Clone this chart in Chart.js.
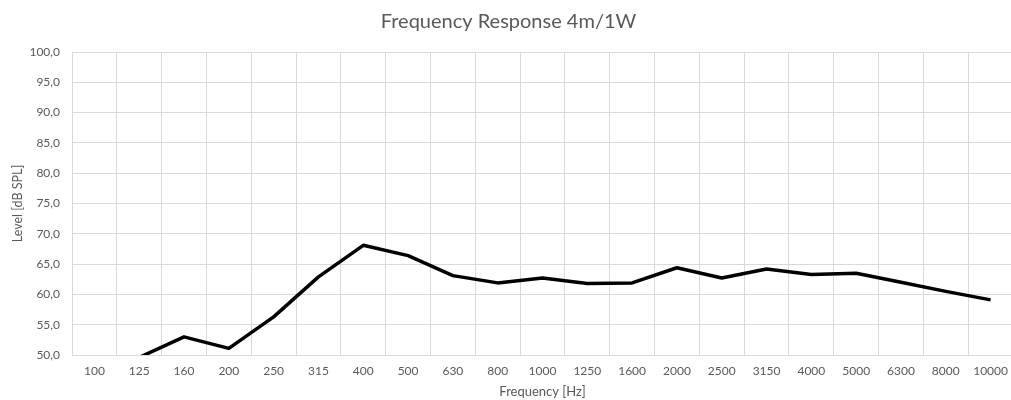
<!DOCTYPE html>
<html>
<head>
<meta charset="utf-8">
<script src="https://cdn.jsdelivr.net/npm/chart.js@4/dist/chart.umd.min.js"></script>
<style>
  html, body { margin: 0; padding: 0; overflow: hidden; background: #fff; }
  #wrap { width: 1017px; height: 400px; }
</style>
</head>
<body>
<div id="wrap"><canvas id="c" width="1017" height="400"></canvas></div>
<script>
const frequencies = ['100','125','160','200','250','315','400','500','630','800','1000','1250','1600','2000','2500','3150','4000','5000','6300','8000','10000'];
const levels = [null, 49.6, 53.0, 51.1, 56.3, 62.9, 68.1, 66.4, 63.1, 61.9, 62.7, 61.8, 61.9, 64.4, 62.7, 64.2, 63.3, 63.5, 62.0, 60.5, 59.1];
const yMin = 50, yMax = 100, yStep = 5;
const titleText = 'Frequency Response 4m/1W';
const xTitle = 'Frequency [Hz]';
const yTitle = 'Level [dB SPL]';

const FONT = 'Lato, "Open Sans", sans-serif';
const GRID = '#d9d9d9';
const TEXT = '#595959';

new Chart(document.getElementById('c'), {
  type: 'line',
  data: {
    labels: frequencies,
    datasets: [{
      data: levels,
      borderColor: '#000000',
      borderWidth: 3.5,
      pointRadius: 0,
      tension: 0,
      borderJoinStyle: 'round',
      fill: false
    }]
  },
  options: {
    responsive: false,
    animation: false,
    layout: { padding: { left: 0, right: 0, top: 0, bottom: 0 } },
    plugins: {
      legend: { display: false },
      tooltip: { enabled: false },
      title: {
        display: true,
        text: titleText,
        color: TEXT,
        font: { family: FONT, size: 20, weight: 'normal' },
        padding: { top: 10, bottom: 18 }
      }
    },
    scales: {
      x: {
        offset: true,
        grid: { color: GRID, lineWidth: 1, drawTicks: false, offset: true },
        border: { color: GRID, width: 1 },
        ticks: { color: TEXT, font: { family: FONT, size: 12 }, padding: 9, maxRotation: 0, autoSkip: false },
        title: { display: true, text: xTitle, color: TEXT, font: { family: FONT, size: 13 }, padding: { top: 0, bottom: 0 } },
        afterFit: (s) => { s.height = 45; }
      },
      y: {
        min: yMin, max: yMax,
        grid: { color: GRID, lineWidth: 1, drawTicks: false },
        border: { color: GRID, width: 1 },
        ticks: {
          stepSize: yStep,
          color: TEXT,
          font: { family: FONT, size: 12 },
          padding: 12,
          callback: (v) => Number(v).toFixed(1).replace('.', ',')
        },
        title: { display: true, text: yTitle, color: TEXT, font: { family: FONT, size: 12.5 }, padding: { top: 10, bottom: 0 } },
        afterFit: (s) => { s.width = 72; }
      }
    }
  }
});
</script>
</body>
</html>
